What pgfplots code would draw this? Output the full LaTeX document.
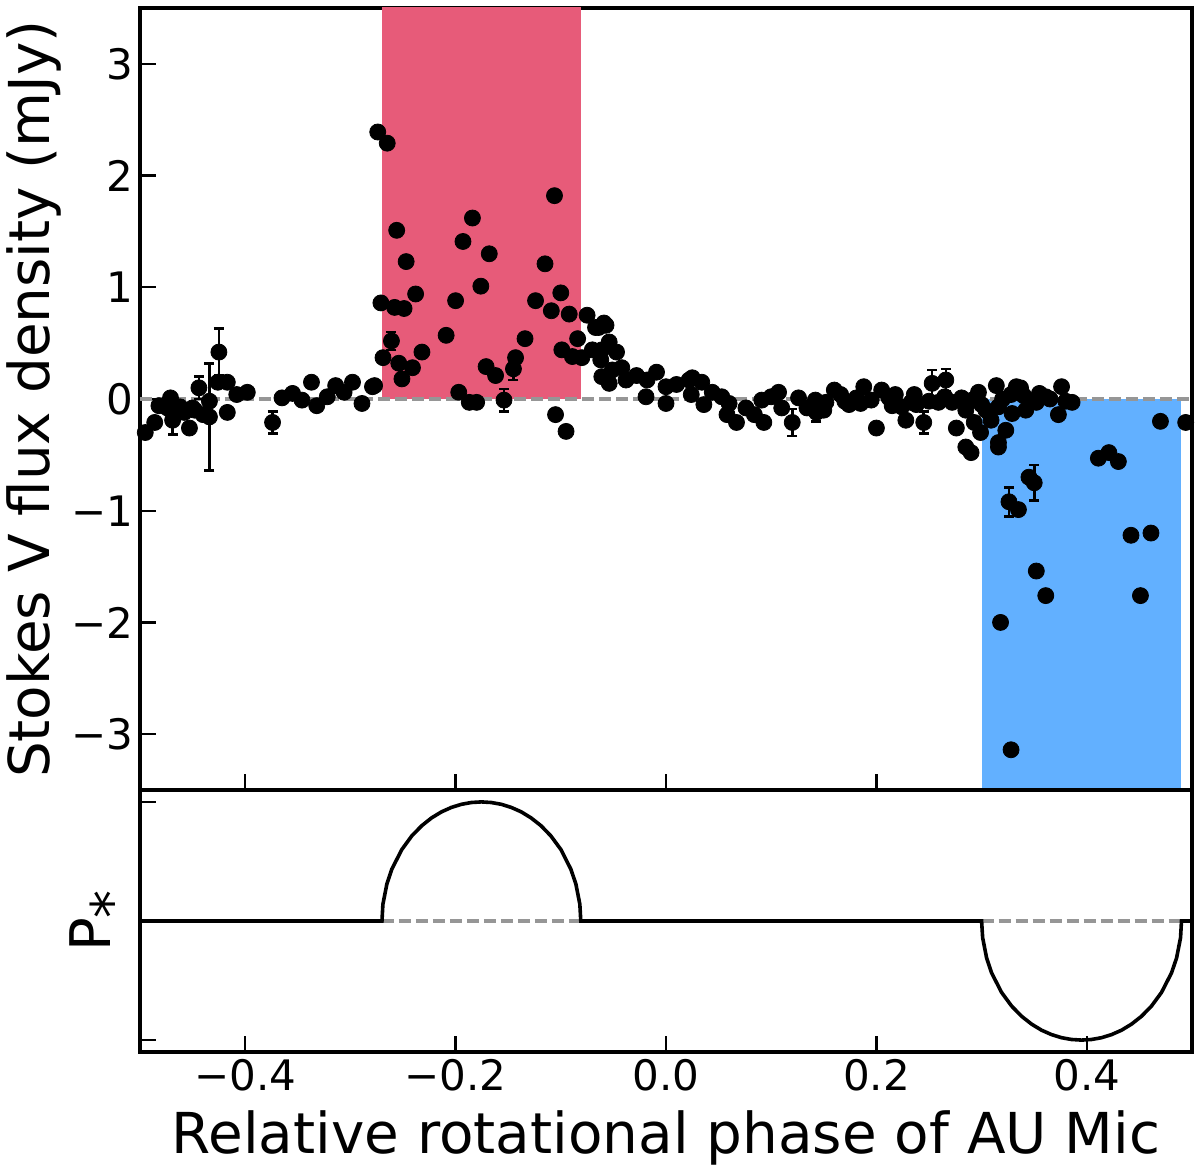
\documentclass[border=0pt]{standalone}
\usepackage{pgfplots}
\pgfplotsset{compat=1.18}
\usepackage{fontspec}
\setmainfont{DejaVu Sans}
\definecolor{pinkreg}{RGB}{231,91,121}
\definecolor{bluereg}{RGB}{98,176,255}
\definecolor{dashgray}{RGB}{150,150,150}
\begin{document}
\begin{tikzpicture}
\path[use as bounding box] (-70pt,-191pt) rectangle (530pt,395pt);
\pgfplotsset{
 myax/.style={scale only axis, width=526pt, xmin=-0.5, xmax=0.5,
   axis line style={line width=1.6pt},
   tick style={line width=1.2pt, black}, major tick length=8pt, tick align=inside,
   xtick pos=left, ytick pos=left,
   ticklabel style={font=\fontsize{21}{25}\selectfont},
   xtick={-0.4,-0.2,0,0.2,0.4}}
}
\begin{axis}[myax, name=top, at={(0,0)}, anchor=south west, height=391pt,
  ymin=-3.5, ymax=3.5, ytick={-3,-2,-1,0,1,2,3}, yticklabels={−3,−2,−1,0,1,2,3},
  xticklabels={},
  ylabel={Stokes V flux density (mJy)},
  every axis y label/.style={at={(axis description cs:-0.0856,0.5)}, rotate=90, anchor=base, font=\fontsize{28.2}{34}\selectfont, inner sep=0pt}]
\addplot[fill=pinkreg, draw=none] coordinates {(-0.270,0) (-0.081,0) (-0.081,3.6) (-0.270,3.6)} -- cycle;
\addplot[fill=bluereg, draw=none] coordinates {(0.300,0) (0.490,0) (0.490,-3.6) (0.300,-3.6)} -- cycle;
\addplot[dashgray, line width=1.8pt, dash pattern=on 6pt off 2.5pt] coordinates {(-0.5,0) (0.5,0)};
\addplot[only marks, mark=*, mark size=4pt, black] table[x=x, y=y] {
x y
-0.495 -0.30
-0.486 -0.21
-0.482 -0.06
-0.474 -0.08
-0.471 0.01
-0.462 -0.07
-0.458 -0.12
-0.453 -0.26
-0.450 -0.08
-0.448 -0.10
-0.440 -0.14
-0.434 -0.02
-0.426 0.15
-0.417 0.15
-0.417 -0.12
-0.408 0.04
-0.398 0.06
-0.365 0.01
-0.355 0.05
-0.346 -0.01
-0.337 0.15
-0.332 -0.06
-0.322 0.02
-0.314 0.12
-0.306 0.06
-0.298 0.15
-0.289 -0.04
-0.279 0.11
-0.277 0.12
-0.274 2.39
-0.265 2.29
-0.256 1.51
-0.247 1.23
-0.238 0.94
-0.271 0.86
-0.258 0.82
-0.249 0.81
-0.269 0.37
-0.254 0.32
-0.232 0.42
-0.241 0.28
-0.251 0.18
-0.209 0.57
-0.200 0.88
-0.193 1.41
-0.184 1.62
-0.168 1.30
-0.176 1.01
-0.197 0.06
-0.187 -0.03
-0.180 -0.03
-0.171 0.29
-0.162 0.21
-0.143 0.37
-0.134 0.54
-0.124 0.88
-0.115 1.21
-0.106 1.82
-0.100 0.95
-0.109 0.79
-0.092 0.76
-0.099 0.44
-0.089 0.38
-0.080 0.37
-0.084 0.54
-0.105 -0.14
-0.095 -0.29
-0.075 0.75
-0.064 0.64
-0.059 0.68
-0.061 0.44
-0.067 0.64
-0.057 0.66
-0.070 0.44
-0.054 0.51
-0.047 0.42
-0.062 0.35
-0.061 0.20
-0.051 0.26
-0.042 0.28
-0.054 0.14
-0.038 0.17
-0.028 0.21
-0.018 0.17
-0.009 0.24
-0.019 0.02
0.000 0.11
0.010 0.13
0.022 0.17
0.000 -0.04
0.025 0.19
0.034 0.15
0.024 0.04
0.036 -0.05
0.044 0.06
0.053 0.02
0.060 -0.04
0.058 -0.14
0.067 -0.21
0.076 -0.08
0.084 -0.14
0.093 -0.21
0.091 -0.01
0.100 0.02
0.107 0.06
0.110 -0.08
0.126 0.01
0.134 -0.08
0.142 -0.01
0.152 -0.03
0.150 -0.10
0.160 0.08
0.166 0.04
0.170 -0.02
0.174 -0.05
0.181 0.01
0.185 -0.04
0.188 0.11
0.195 -0.01
0.200 -0.26
0.205 0.08
0.212 0.01
0.215 -0.06
0.218 0.04
0.224 -0.07
0.228 -0.19
0.233 -0.03
0.238 -0.05
0.250 -0.02
0.259 -0.03
0.265 0.02
0.272 -0.03
0.281 0.01
0.276 -0.26
0.285 -0.10
0.285 -0.43
0.290 -0.48
0.291 -0.01
0.297 0.06
0.300 -0.05
0.304 -0.10
0.293 -0.21
0.299 -0.30
0.309 -0.19
0.314 0.12
0.316 -0.07
0.316 -0.39
0.316 -0.43
0.320 0.00
0.323 -0.28
0.328 0.04
0.329 -0.13
0.333 0.11
0.337 0.10
0.340 0.03
0.342 -0.10
0.352 -0.03
0.355 0.05
0.361 0.02
0.365 0.00
0.373 -0.14
0.376 0.11
0.380 -0.02
0.386 -0.03
0.335 -0.99
0.345 -0.70
0.411 -0.53
0.421 -0.48
0.430 -0.56
0.442 -1.22
0.461 -1.20
0.352 -1.54
0.361 -1.76
0.451 -1.76
0.318 -2.00
0.328 -3.14
0.470 -0.20
0.494 -0.21
};
\addplot[only marks, mark=*, mark size=4pt, black,
  error bars/.cd, y dir=both, y explicit,
  error bar style={line width=1.3pt, black},
  error mark options={rotate=90, mark size=2.5pt, line width=1.3pt, black}]
  table[x=x, y=y, y error=e] {
x y e
-0.469 -0.19 0.13
-0.444 0.10 0.10
-0.434 -0.16 0.48
-0.425 0.42 0.21
-0.374 -0.21 0.10
-0.261 0.52 0.08
-0.154 -0.01 0.10
-0.145 0.27 0.10
0.120 -0.21 0.12
0.143 -0.12 0.08
0.236 0.04 0.05
0.245 -0.21 0.10
0.253 0.14 0.12
0.266 0.17 0.10
0.326 -0.92 0.13
0.350 -0.75 0.16
};
\end{axis}
\begin{axis}[myax, name=bot, at={(top.south west)}, anchor=north west, height=131pt,
  ymin=-1.1, ymax=1.1, ytick={-1,1}, yticklabels={},
  xticklabels={−0.4,−0.2,0.0,0.2,0.4},
  xlabel={Relative rotational phase of AU Mic},
  every axis x label/.style={at={(axis description cs:0.5,0)}, anchor=north, yshift=-29pt, font=\fontsize{28.2}{34}\selectfont, inner sep=0pt},
  ylabel={P\raisebox{-0.39em}{*}},
  every axis y label/.style={at={(axis description cs:-0.0285,0.5)}, rotate=90, anchor=base, font=\fontsize{28}{34}\selectfont, inner sep=0pt}]
\addplot[dashgray, line width=1.8pt, dash pattern=on 6pt off 2.5pt] coordinates {(-0.270,0) (-0.081,0)};
\addplot[dashgray, line width=1.8pt, dash pattern=on 6pt off 2.5pt] coordinates {(0.300,0) (0.490,0)};
\addplot[black, line width=1.8pt] coordinates {
(-0.5,0) (-0.270,0) (-0.2691,0.141) (-0.2653,0.312) (-0.2606,0.436) (-0.2511,0.600)
(-0.2417,0.714) (-0.2322,0.800) (-0.2228,0.866) (-0.2133,0.917) (-0.2039,0.954)
(-0.1944,0.980) (-0.1850,0.995) (-0.1755,1.000) (-0.1661,0.995) (-0.1566,0.980)
(-0.1472,0.954) (-0.1377,0.917) (-0.1283,0.866) (-0.1188,0.800) (-0.1094,0.714)
(-0.0999,0.600) (-0.0905,0.436) (-0.0857,0.312) (-0.0819,0.141) (-0.081,0)
(0.300,0) (0.3010,-0.141) (0.3048,-0.312) (0.3095,-0.436) (0.319,-0.600)
(0.3285,-0.714) (0.338,-0.800) (0.3475,-0.866) (0.357,-0.917) (0.3665,-0.954)
(0.376,-0.980) (0.3855,-0.995) (0.395,-1.000) (0.4045,-0.995) (0.414,-0.980)
(0.4235,-0.954) (0.433,-0.917) (0.4425,-0.866) (0.452,-0.800) (0.4615,-0.714)
(0.471,-0.600) (0.4805,-0.436) (0.4853,-0.312) (0.4891,-0.141) (0.490,0) (0.5,0)
};
\end{axis}
\end{tikzpicture}
\end{document}
